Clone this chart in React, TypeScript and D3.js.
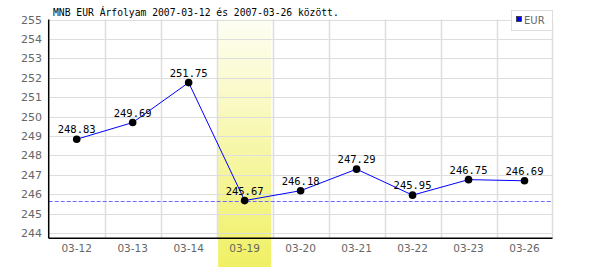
import React from "react";
import * as d3 from "d3";

const categories = ["03-12", "03-13", "03-14", "03-19", "03-20", "03-21", "03-22", "03-23", "03-26"];
const values = [248.83, 249.69, 251.75, 245.67, 246.18, 247.29, 245.95, 246.75, 246.69];
const yTicks = [244, 245, 246, 247, 248, 249, 250, 251, 252, 253, 254, 255];
const titleText = "MNB EUR Árfolyam 2007-03-12 és 2007-03-26 között.";
const seriesName = "EUR";
const highlightCategory = "03-19";

export default function App() {
  const W = 600, H = 270;
  const left = 48.7, right = 552.5, top = 19.5, bottom = 238.3;
  const x = d3.scaleBand<string>().domain(categories).range([left, right]).padding(0);
  const y = d3.scaleLinear().domain([244, 255]).range([233, 19.5]);
  const minV = d3.min(values) as number;
  const line = d3.line<number>()
    .x((_, i) => (x(categories[i]) as number) + x.bandwidth() / 2)
    .y((d) => y(d));
  const hx = x(highlightCategory) as number;
  const mono = "'DejaVu Sans Mono', monospace";
  const sans = "'DejaVu Sans', sans-serif";
  const minY = Math.round(y(minV)) + 0.5;
  return (
    <svg width={W} height={H} style={{ position: "absolute", left: 0, top: 0, background: "#fff" }}>
      <defs>
        <linearGradient id="hl" x1="0" y1="0" x2="0" y2="1">
          <stop offset="0" stopColor="#fefef4" />
          <stop offset="1" stopColor="#f0f064" />
        </linearGradient>
      </defs>
      <rect x={0} y={0} width={W} height={H} fill="#fff" />
      <rect x={hx + 1.5} y={top} width={x.bandwidth() - 3} height={H - top - 3} fill="url(#hl)" />
      {yTicks.map((t) => (
        <line key={"gy" + t} x1={left} x2={right} y1={Math.round(y(t)) + 0.5} y2={Math.round(y(t)) + 0.5} stroke="#dddddd" />
      ))}
      {categories.slice(1).map((c) => (
        <line key={"gx" + c} x1={Math.round(x(c) as number) + 0.5} x2={Math.round(x(c) as number) + 0.5} y1={top} y2={bottom} stroke="#dddddd" strokeWidth={1.5} />
      ))}
      <line x1={right} x2={right} y1={top} y2={bottom} stroke="#dddddd" strokeWidth={1.5} />
      <path d={`M${left},${minY}H${right}`} fill="none" stroke="#6a6aff" strokeWidth={1} strokeDasharray="4 2" />
      <line x1={left} x2={left} y1={top} y2={bottom} stroke="#000" strokeWidth={1.5} />
      <line x1={left} x2={right} y1={bottom} y2={bottom} stroke="#000" strokeWidth={1.5} />
      {yTicks.map((t) => (
        <text key={"ty" + t} x={42} y={y(t) + 4} textAnchor="end" fontFamily={sans} fontSize={11} fill="#666">{t}</text>
      ))}
      {categories.map((c) => (
        <text key={"tx" + c} x={(x(c) as number) + x.bandwidth() / 2} y={252} textAnchor="middle" fontFamily={sans} fontSize={10.5} fill="#666">{c}</text>
      ))}
      <path d={line(values) || ""} fill="none" stroke="#0000ff" strokeWidth={1} />
      {values.map((v, i) => (
        <circle key={"p" + i} cx={(x(categories[i]) as number) + x.bandwidth() / 2} cy={y(v)} r={3.8} fill="#000" />
      ))}
      {values.map((v, i) => (
        <text key={"l" + i} x={(x(categories[i]) as number) + x.bandwidth() / 2} y={y(v) - 6} textAnchor="middle" fontFamily={mono} fontSize={10.5} fill="#000">{v.toFixed(2)}</text>
      ))}
      <text x={53} y={16} fontFamily={mono} fontSize={9.7} fill="#000">{titleText}</text>
      <rect x={511.5} y={10.5} width={41} height={20} fill="#fff" stroke="#dddddd" />
      <rect x={516.5} y={16.5} width={5} height={5} fill="#0000ff" stroke="#333" strokeWidth={0.8} />
      <text x={524} y={24} fontFamily={sans} fontSize={10} fill="#666">{seriesName}</text>
    </svg>
  );
}
